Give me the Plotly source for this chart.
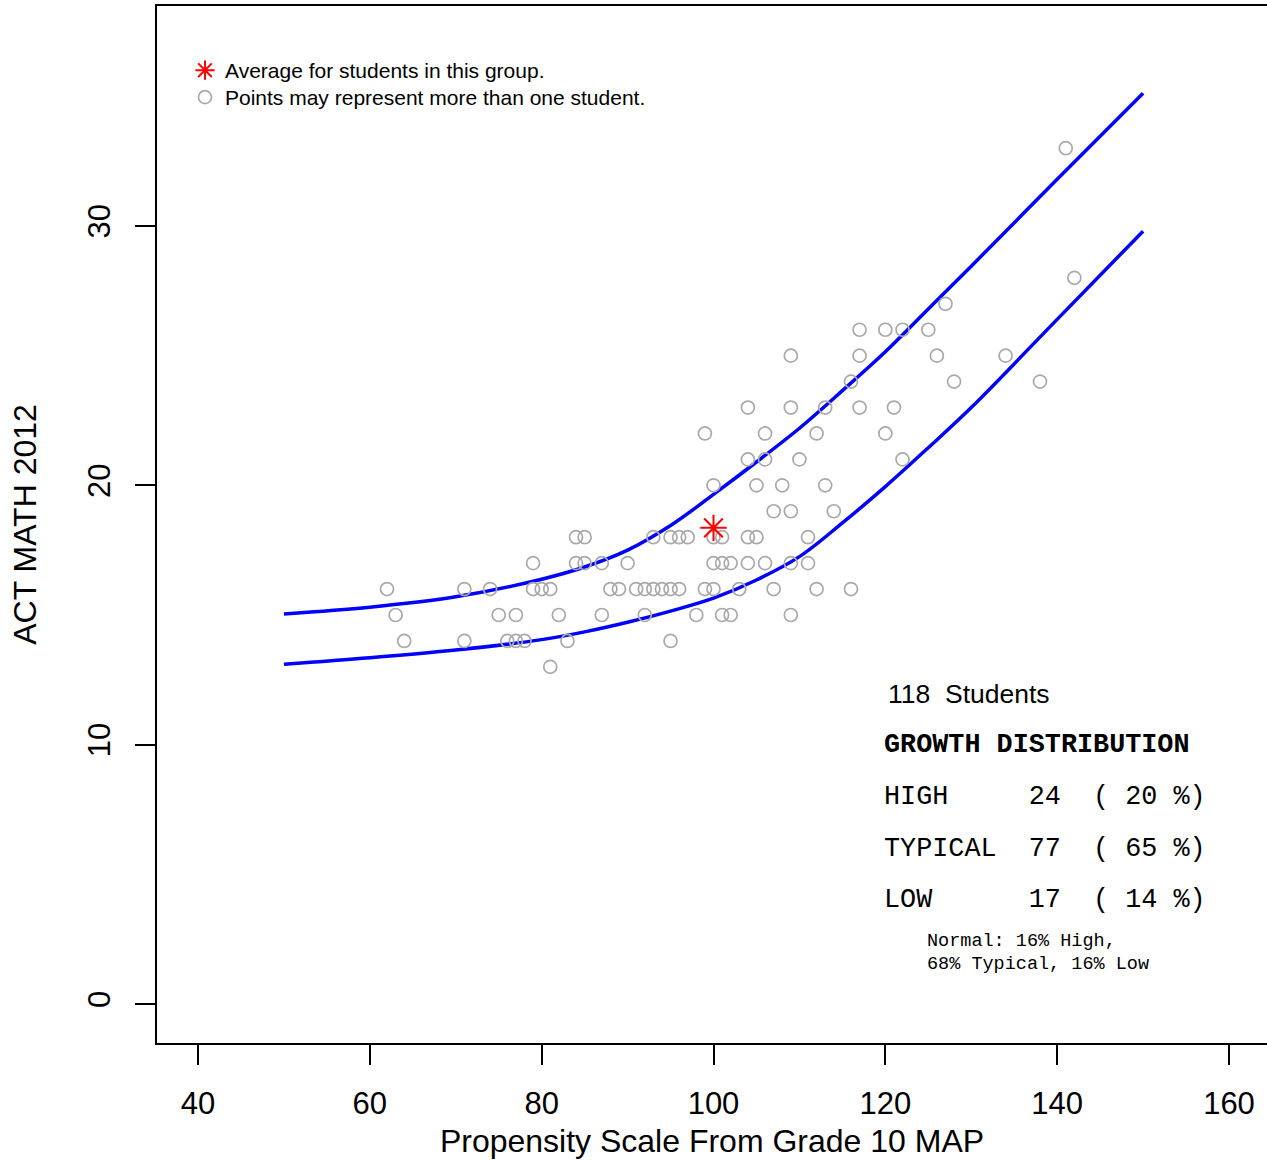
import plotly.graph_objects as go

# ---- data ----
score_x = [81,
           64, 71, 76, 77, 78, 83, 95,
           63, 75, 77, 82, 87, 92, 98, 101, 102, 109,
           62, 71, 74, 79, 80, 81, 88, 89, 91, 92, 93, 94, 95, 96, 99, 100, 103, 107, 112, 116,
           79, 84, 85, 87, 90, 100, 101, 102, 104, 106, 109, 111,
           84, 85, 93, 95, 96, 97, 100, 101, 104, 105, 111,
           107, 109, 114,
           100, 105, 108, 113,
           104, 106, 110, 122,
           99, 106, 112, 120,
           104, 109, 113, 117, 121,
           116, 128, 138,
           109, 117, 126, 134,
           117, 120, 122, 125,
           127,
           142,
           141]
score_y = [13,
           14, 14, 14, 14, 14, 14, 14,
           15, 15, 15, 15, 15, 15, 15, 15, 15, 15,
           16, 16, 16, 16, 16, 16, 16, 16, 16, 16, 16, 16, 16, 16, 16, 16, 16, 16, 16, 16,
           17, 17, 17, 17, 17, 17, 17, 17, 17, 17, 17, 17,
           18, 18, 18, 18, 18, 18, 18, 18, 18, 18, 18,
           19, 19, 19,
           20, 20, 20, 20,
           21, 21, 21, 21,
           22, 22, 22, 22,
           23, 23, 23, 23, 23,
           24, 24, 24,
           25, 25, 25, 25,
           26, 26, 26, 26,
           27,
           28,
           33]

avg_x = [100]
avg_y = [18.36]

curve_x = [50, 60, 70, 80, 85, 90, 95, 100, 105, 110, 115, 120, 125, 130, 140, 150]
upper_y = [15.04, 15.3, 15.7, 16.38, 16.85, 17.5, 18.45, 19.65, 20.9, 22.2, 23.65, 25.15, 26.8, 28.45, 31.8, 35.12]
lower_y = [13.1, 13.35, 13.65, 14.05, 14.35, 14.72, 15.15, 15.65, 16.35, 17.25, 18.55, 19.95, 21.45, 23.0, 26.4, 29.8]

x_ticks = [40, 60, 80, 100, 120, 140, 160]
y_ticks = [0, 10, 20, 30]

n_students = 118
growth_rows = [("HIGH", 24, 20), ("TYPICAL", 77, 65), ("LOW", 17, 14)]

# ---- layout helpers ----
W, H = 1267, 1161
L, T, R, B = 157, 6, 0, 118
PW, PH = W - L - R, H - T - B


def px(xp):
    return (xp - L) / PW


def py(yp):
    return (H - B - yp) / PH


NB = "\u00a0"
SANS = "Liberation Sans, Arial, sans-serif"
MONO = "Liberation Mono, Courier New, monospace"

fig = go.Figure()

fig.add_trace(go.Scatter(
    x=curve_x, y=upper_y, mode="lines", line=dict(color="#0000FF", width=3.5, shape="spline"),
    showlegend=False, hoverinfo="skip"))
fig.add_trace(go.Scatter(
    x=curve_x, y=lower_y, mode="lines", line=dict(color="#0000FF", width=3.5, shape="spline"),
    showlegend=False, hoverinfo="skip"))

fig.add_trace(go.Scatter(
    x=score_x, y=score_y, mode="markers",
    name="Points may represent more than one student.",
    legend="legend2",
    marker=dict(symbol="circle-open", size=13, color="#A9A9A9", line=dict(width=1.7, color="#A9A9A9"))))

fig.add_trace(go.Scatter(
    x=avg_x, y=avg_y, mode="markers",
    name="Average for students in this group.",
    legend="legend",
    marker=dict(symbol="asterisk-open", size=22, color="#FF0000", line=dict(width=2, color="#FF0000"))))

annotations = []
annotations.append(dict(
    xref="paper", yref="paper", x=px(886), y=py(694), xanchor="left", yanchor="middle",
    text=f"{n_students}{NB}{NB}Students", showarrow=False,
    font=dict(family=SANS, size=26.5, color="#000000")))
annotations.append(dict(
    xref="paper", yref="paper", x=px(882), y=py(745), xanchor="left", yanchor="middle",
    text="<b>GROWTH DISTRIBUTION</b>", showarrow=False,
    font=dict(family=MONO, size=26.8, color="#000000")))
for i, (lab, n, pct) in enumerate(growth_rows):
    s = lab.ljust(9) + f"{n:>2}" + "  ( " + f"{pct:>2}" + " %)"
    s = s.replace(" ", NB)
    annotations.append(dict(
        xref="paper", yref="paper", x=px(882), y=py(797 + 51.7 * i), xanchor="left", yanchor="middle",
        text=s, showarrow=False, font=dict(family=MONO, size=26.8, color="#000000")))
annotations.append(dict(
    xref="paper", yref="paper", x=px(925), y=py(941), xanchor="left", yanchor="middle",
    text="Normal:" + NB + "16%" + NB + "High,", showarrow=False,
    font=dict(family=MONO, size=18.5, color="#000000")))
annotations.append(dict(
    xref="paper", yref="paper", x=px(925), y=py(964), xanchor="left", yanchor="middle",
    text="68%" + NB + "Typical," + NB + "16%" + NB + "Low", showarrow=False,
    font=dict(family=MONO, size=18.5, color="#000000")))

legend_common = dict(xanchor="left", yanchor="top", bgcolor="rgba(0,0,0,0)", borderwidth=0,
                     font=dict(family=SANS, size=21, color="#000000"), itemsizing="trace")

fig.update_layout(
    width=W, height=H,
    margin=dict(l=L, r=R, t=T, b=B, pad=0),
    paper_bgcolor="white", plot_bgcolor="white",
    font=dict(family=SANS, color="#000000"),
    showlegend=True,
    legend=dict(x=px(185), y=py(50), **legend_common),
    legend2=dict(x=px(185), y=py(77), **legend_common),
    annotations=annotations,
    xaxis=dict(
        range=[35.228, 35.228 + PW / 8.5917],
        tickmode="array", tickvals=x_ticks, ticktext=[str(v) for v in x_ticks],
        ticks="outside", ticklen=20, tickwidth=1.5, tickcolor="#000000",
        ticklabelstandoff=12,
        tickfont=dict(family=SANS, size=31, color="#000000"),
        showgrid=False, zeroline=False,
        showline=True, linecolor="#000000", linewidth=1.5, mirror=True,
        title=dict(text="Propensity Scale From Grade 10 MAP", standoff=10,
                   font=dict(family=SANS, size=32, color="#000000")),
        automargin=False,
    ),
    yaxis=dict(
        range=[-1.504, 38.483],
        tickmode="array", tickvals=y_ticks, ticktext=[str(v) for v in y_ticks],
        ticks="outside", ticklen=20, tickwidth=1.5, tickcolor="#000000",
        tickangle=-90, ticklabelstandoff=13,
        tickfont=dict(family=SANS, size=31, color="#000000"),
        showgrid=False, zeroline=False,
        showline=True, linecolor="#000000", linewidth=1.5, mirror=False,
        title=dict(text="ACT MATH 2012", standoff=36,
                   font=dict(family=SANS, size=32, color="#000000")),
        automargin=False,
    ),
)

fig.write_html("out.html", config={"displayModeBar": False},
               post_script="document.body.style.margin='0';")
